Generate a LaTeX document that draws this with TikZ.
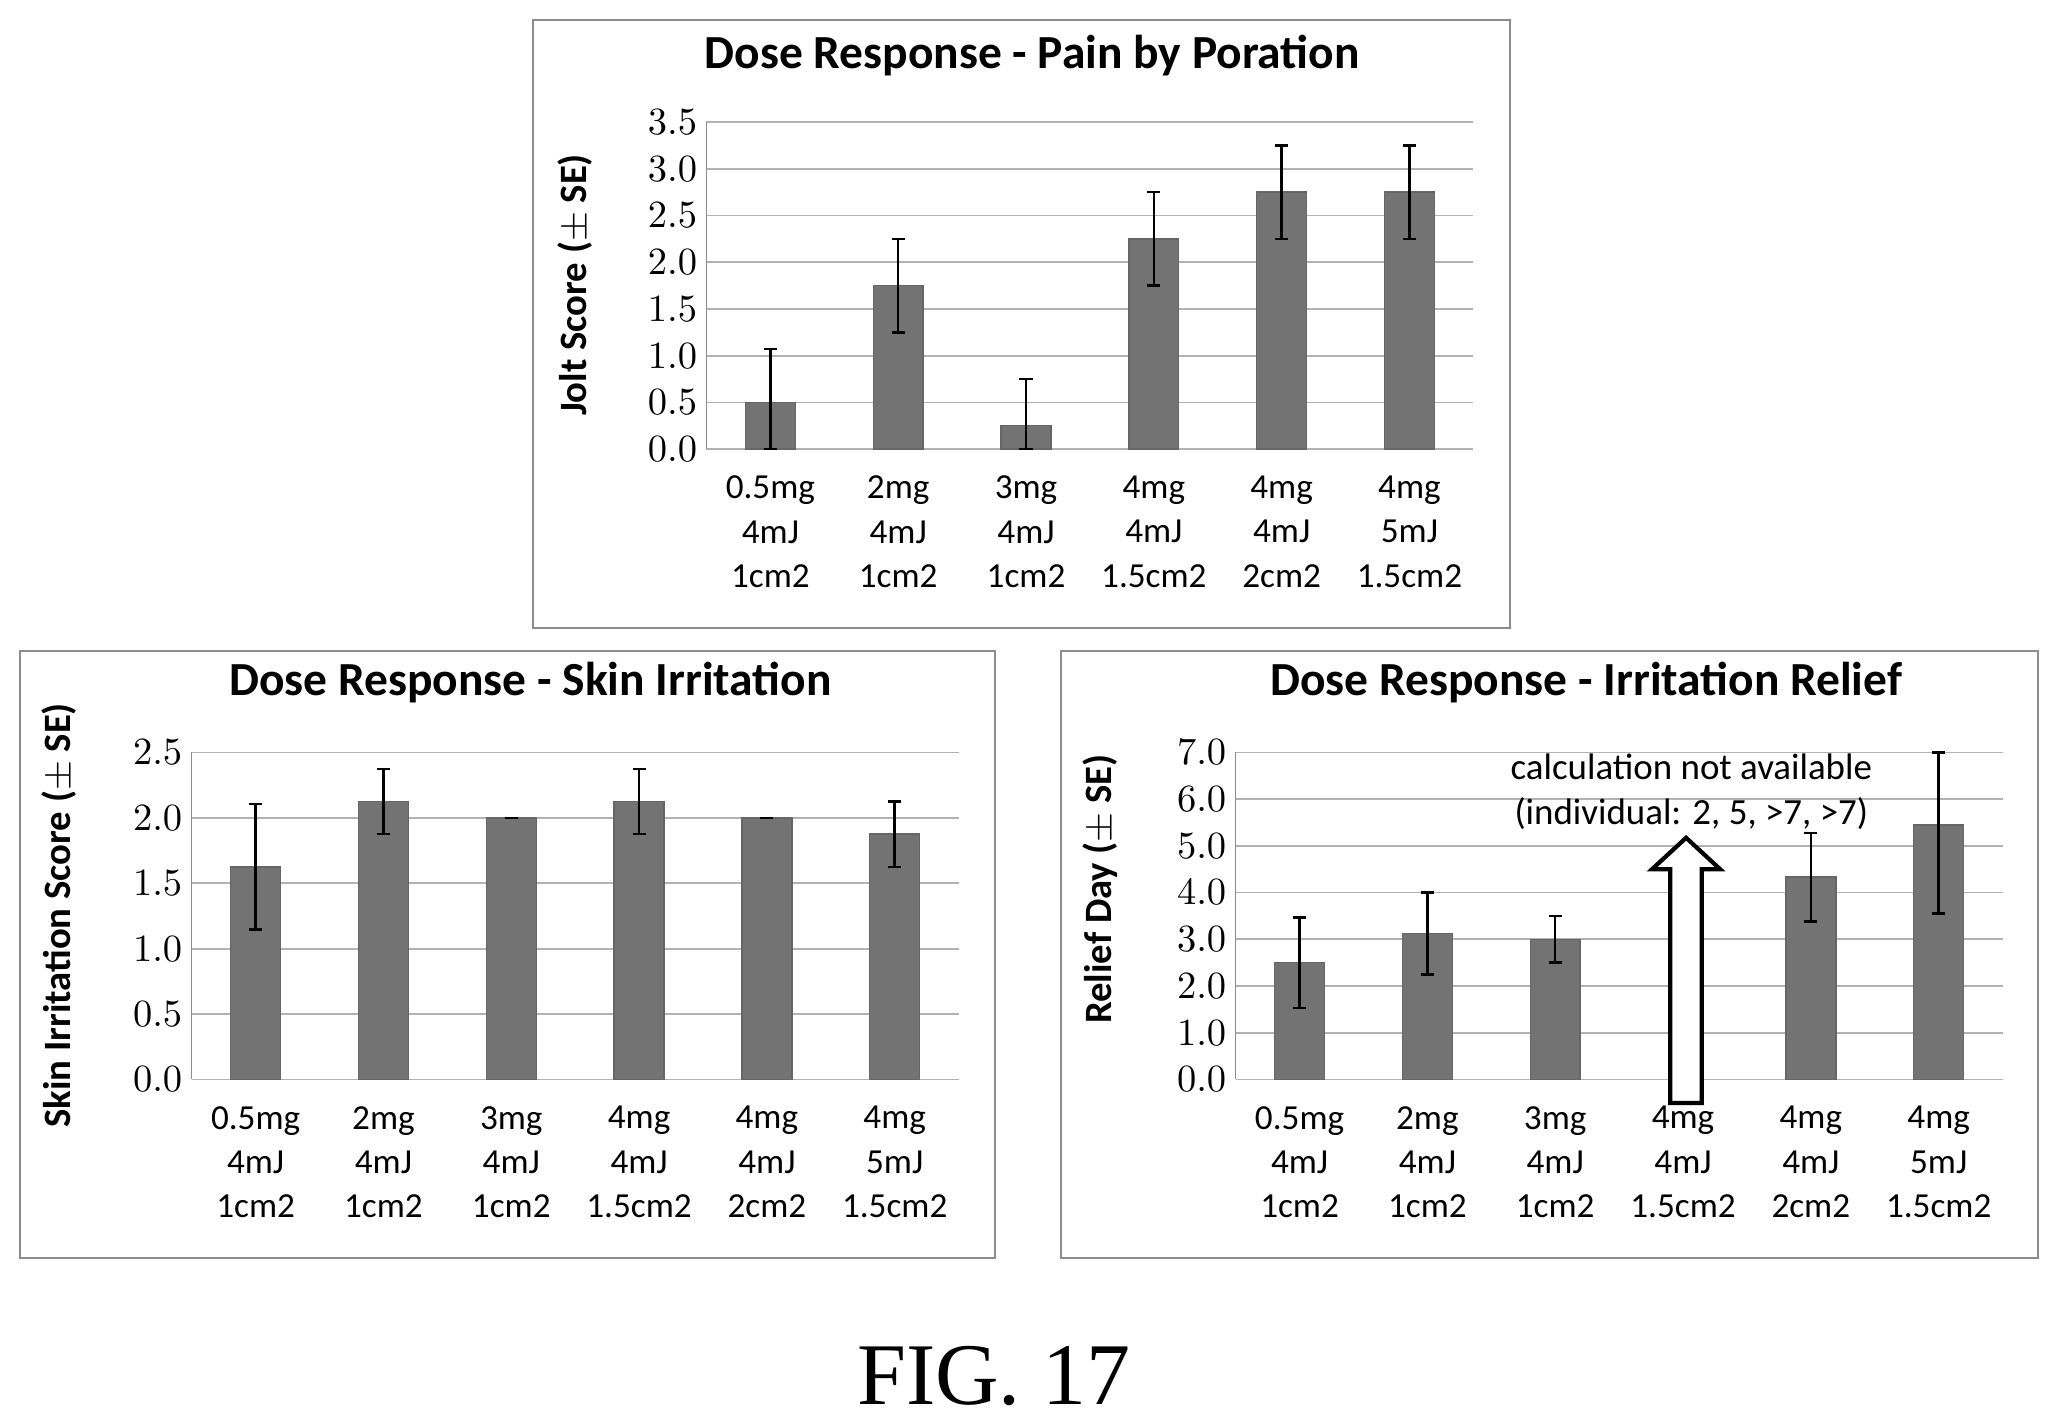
\documentclass[tikz,border=0pt]{standalone}
\usepackage{fontspec}
\setmainfont{Carlito}
\newfontfamily\figfont{Liberation Serif}
\usetikzlibrary{calc}

\tikzset{
  frame/.style={draw=black!45, line width=0.6pt},
  grid/.style={draw=black!30, line width=0.5pt},
  bar/.style={fill=black!55, draw=black!60, line width=0.4pt},
  errbar/.style={draw=black, line width=0.7pt},
  tick/.style={font=\fontsize{10.5}{12}\selectfont, inner sep=1pt},
  xlab/.style={font=\fontsize{10}{12.6}\selectfont, align=center, inner sep=0pt},
  title/.style={font=\fontsize{13.5}{16}\selectfont\bfseries},
  ylab/.style={font=\fontsize{11}{13}\selectfont\bfseries, rotate=90}
}

% #1 left, #2 bottom, #3 width, #4 height, #5 ymax, #6 second tick, #7 bars v/e
\newcommand{\drawchart}[8]{%
  \foreach \t [count=\k] in {0,#6,...,#5} {
    \pgfmathsetmacro{\yy}{#2-\t/#5*#4}
    \draw[grid] (#1,\yy) -- (#1+#3,\yy);
    \node[tick, anchor=east] (#8tick\k) at (#1-4,\yy)
      {\pgfmathprintnumber[fixed,fixed zerofill,precision=1]{\t}};
  }
  \draw[draw=black!45] (#1,#2) -- (#1,#2-#4);
  \foreach \v/\e [count=\i] in {#7} {
    \pgfmathsetmacro{\cx}{#1+(\i-0.5)*#3/6}
    \pgfmathtruncatemacro{\has}{\v>0}
    \ifnum\has=1
      \pgfmathsetmacro{\yt}{#2-\v/#5*#4}
      \pgfmathsetmacro{\ya}{#2-min(\v+\e,#5)/#5*#4}
      \pgfmathsetmacro{\yb}{#2-max(\v-\e,0)/#5*#4}
      \draw[bar] (\cx-19,#2) rectangle (\cx+19,\yt);
      \draw[errbar] (\cx,\ya) -- (\cx,\yb);
      \draw[errbar] (\cx-5,\ya) -- (\cx+5,\ya);
      \draw[errbar] (\cx-5,\yb) -- (\cx+5,\yb);
    \fi
  }
  \foreach \d/\j/\s [count=\i] in {0.5mg/4mJ/1cm2,2mg/4mJ/1cm2,3mg/4mJ/1cm2,4mg/4mJ/1.5cm2,4mg/4mJ/2cm2,4mg/5mJ/1.5cm2} {
    \node[xlab] (#8lab\i) at (#1+\i*#3/6-0.5*#3/6,#2+63) {\d\\\j\\\s};
  }
}

\begin{document}
\begin{tikzpicture}[x=0.01313cm, y=-0.01313cm]
  \useasboundingbox[fill=white] (0,0) rectangle (1568,1080.7);

  % top chart
  \draw[frame] (406,15) rectangle (1150,478);
  \node[title] (titleA) at (786,42) {Dose Response - Pain by Poration};
  \node[ylab] (ylabA) at (438,217) {Jolt Score ($\pm$ SE)};
  \drawchart{538}{342}{584}{249}{3.5}{0.5}{0.5/0.57,1.75/0.5,0.25/0.5,2.25/0.5,2.75/0.5,2.75/0.5}{A}

  % bottom left chart
  \draw[frame] (15,496) rectangle (758,958);
  \node[title] (titleB) at (404,520) {Dose Response - Skin Irritation};
  \node[ylab] (ylabB) at (45,697) {Skin Irritation Score ($\pm$ SE)};
  \drawchart{146}{822}{584}{249}{2.5}{0.5}{1.625/0.48,2.125/0.25,2.0/0,2.125/0.25,2.0/0,1.875/0.25}{B}

  % bottom right chart
  \draw[frame] (808,496) rectangle (1552,958);
  \node[title] (titleC) at (1208,520) {Dose Response - Irritation Relief};
  \node[ylab] (ylabC) at (838,677) {Relief Day ($\pm$ SE)};
  \drawchart{941}{822}{584}{249}{7}{1}{2.5/0.97,3.125/0.875,3.0/0.5,0/0,4.33/0.95,5.45/1.9}{C}
  \draw[line width=1.2pt, fill=white] (1272,840) -- (1272,662) -- (1258,662) -- (1284,638)
    -- (1310,662) -- (1296,662) -- (1296,840) -- cycle;
  \node[font=\fontsize{10.5}{13}\selectfont, align=center] (note) at (1288,603)
    {calculation not available\\(individual: 2, 5, >7, >7)};

  \node[font=\figfont\fontsize{25}{30}\selectfont] (fig) at (757,1048) {FIG. 17};
\end{tikzpicture}
\end{document}
